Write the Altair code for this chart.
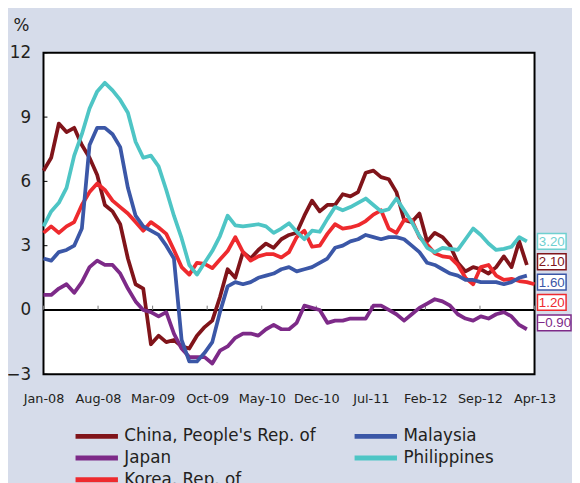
import altair as alt
import pandas as pd

# ---------------- data ----------------
tick_labels = ["Jan-08", "Aug-08", "Mar-09", "Oct-09", "May-10",
               "Dec-10", "Jul-11", "Feb-12", "Sep-12", "Apr-13"]
n_steps = 64  # monthly points from Dec-07 (0) to Apr-13 (64)

series_names = ["China, People's Rep. of", "Japan", "Korea, Rep. of",
                "Malaysia", "Philippines"]

china = [6.5, 7.1, 8.7, 8.3, 8.5, 7.7, 7.1, 6.3, 4.9, 4.6, 4.0, 2.4, 1.2,
         1.0, -1.6, -1.2, -1.5, -1.4, -1.7, -1.8, -1.2, -0.8, -0.5, 0.6, 1.9,
         1.5, 2.7, 2.4, 2.8, 3.1, 2.9, 3.3, 3.5, 3.6, 4.4, 5.1, 4.6,
         4.9, 4.9, 5.4, 5.3, 5.5, 6.4, 6.5, 6.2, 6.1, 5.5, 4.2, 4.1,
         4.5, 3.2, 3.6, 3.4, 3.0, 2.2, 1.8, 2.0, 1.9, 1.7, 2.0, 2.5,
         2.0, 3.2, 2.1]
japan = [0.7, 0.7, 1.0, 1.2, 0.8, 1.3, 2.0, 2.3, 2.1, 2.1, 1.7, 1.0, 0.4,
         0.0, -0.1, -0.3, -0.1, -1.1, -1.8, -2.2, -2.2, -2.2, -2.5, -1.9, -1.7,
         -1.3, -1.1, -1.1, -1.2, -0.9, -0.7, -0.9, -0.9, -0.6, 0.2, 0.1, 0.0,
         -0.6, -0.5, -0.5, -0.4, -0.4, -0.4, 0.2, 0.2, 0.0, -0.2, -0.5, -0.2,
         0.1, 0.3, 0.5, 0.4, 0.2, -0.2, -0.4, -0.5, -0.3, -0.4, -0.2, -0.1,
         -0.3, -0.7, -0.9]
korea = [3.6, 3.9, 3.6, 3.9, 4.1, 4.9, 5.5, 5.9, 5.6, 5.1, 4.8, 4.5, 4.1,
         3.7, 4.1, 3.85, 3.55, 2.8, 2.0, 1.65, 2.2, 2.15, 1.95, 2.35, 2.75,
         3.4, 2.7, 2.3, 2.5, 2.6, 2.6, 2.45, 2.7, 3.4, 3.7, 2.95, 3.0,
         3.55, 4.0, 3.8, 3.85, 3.95, 4.15, 4.45, 4.65, 3.8, 3.6, 4.2, 4.2,
         3.4, 3.05, 2.65, 2.5, 2.45, 2.1, 1.5, 1.2, 2.0, 2.1, 1.6, 1.4,
         1.45, 1.35, 1.3, 1.2]
malaysia = [2.4, 2.3, 2.7, 2.8, 3.0, 3.8, 7.7, 8.5, 8.5, 8.2, 7.6, 5.7, 4.4,
            3.9, 3.7, 3.5, 3.0, 2.4, -1.4, -2.4, -2.4, -2.0, -1.5, -0.1, 1.1,
            1.3, 1.2, 1.3, 1.5, 1.6, 1.7, 1.9, 2.0, 1.8, 1.9, 2.0, 2.2,
            2.4, 2.9, 3.0, 3.2, 3.3, 3.5, 3.4, 3.3, 3.4, 3.4, 3.3, 3.0,
            2.7, 2.2, 2.1, 1.9, 1.7, 1.6, 1.4, 1.4, 1.3, 1.3, 1.3, 1.2,
            1.3, 1.5, 1.6]
philippines = [3.9, 4.6, 5.0, 5.7, 7.2, 8.2, 9.4, 10.2, 10.6, 10.25, 9.8, 9.2, 7.85,
               7.1, 7.2, 6.7, 5.6, 4.4, 3.35, 2.1, 1.65, 2.2, 2.75, 3.45, 4.4,
               3.95, 3.9, 3.95, 4.0, 3.9, 3.6, 3.8, 4.05, 3.65, 3.3, 3.7, 3.65,
               4.25, 4.8, 4.65, 4.8, 5.0, 5.2, 4.9, 4.6, 4.7, 5.2, 4.65, 4.1,
               3.45, 2.9, 2.7, 2.9, 2.85, 2.8, 3.3, 3.8, 3.5, 3.1, 2.8, 2.85,
               2.95, 3.4, 3.2]

y_ticks = [-3, 0, 3, 6, 9, 12]

line_colors = ["#80141A", "#7D2A88", "#EE2A2E", "#3B57A7", "#4EC5C5"]
label_text_colors = ["#80141A", "#7D2A88", "#EE2A2E", "#3B57A7", "#6FD0D0"]

# ---------------- tables ----------------
all_vals = [china, japan, korea, malaysia, philippines]
rows = []
for name, vals in zip(series_names, all_vals):
    for i, v in enumerate(vals):
        rows.append({"series": name, "idx": i, "value": v})
df = pd.DataFrame(rows)

tick_df = pd.DataFrame({"pos": [k * n_steps / (len(tick_labels) - 1) for k in range(len(tick_labels))]})
ytick_df = pd.DataFrame({"v": y_ticks})

# end-of-line value labels, stacked from the highest one downward
ends = []
for name, vals, tc in zip(series_names, all_vals, label_text_colors):
    ends.append({"series": name, "last": vals[-1], "col": tc})
ends.sort(key=lambda d: -d["last"])
top = ends[0]["last"]
for k, d in enumerate(ends):
    txt = f"{d['last']:.2f}".replace("-", "\u2212")
    w = 5 * len(txt) + 9
    h = 8.0 / (w / 2.0)
    d["slot"] = top - k * 0.95
    d["txt"] = txt
    d["cx"] = 501 + w / 2.0
    d["sz"] = w * w
    d["shape"] = f"M-1,{-h:.4f}H1V{h:.4f}H-1Z"
end_df = pd.DataFrame(ends)

# ---------------- scales / axes ----------------
xscale = alt.Scale(domain=[0, n_steps], nice=False, zero=False)
yscale = alt.Scale(domain=[-3, 12], nice=False, zero=False)

label_arr = "[" + ",".join(f"'{t}'" for t in tick_labels) + "]"
ax_x = alt.Axis(values=tick_df["pos"].tolist(), title=None, domain=False, ticks=False,
                tickSize=0, grid=False, labelFlush=False, labelOverlap=False,
                labelPadding=19, labelFontSize=13, labelColor="#231F20",
                labelExpr=f"{label_arr}[round(datum.value*{len(tick_labels)-1}/{n_steps})]")
ax_y = alt.Axis(values=y_ticks, title="%", titleAngle=0, titleAlign="left",
                titleBaseline="alphabetic", titleX=-31, titleY=-23, titleFontSize=17,
                titleFontWeight="normal", titleColor="#231F20",
                domain=False, ticks=False, tickSize=0, grid=False,
                labelPadding=13, labelFontSize=17, labelColor="#231F20",
                labelExpr="replace(datum.label, '-', '\u2212')")

base_y = alt.Y("value:Q", scale=yscale, axis=ax_y)

zero_rule = alt.Chart(pd.DataFrame({"z": [0]})).mark_rule(color="black", strokeWidth=2).encode(
    y=alt.Y("z:Q", scale=yscale, axis=ax_y)
)

xticks = alt.Chart(tick_df).mark_rule(color="#777777", strokeWidth=1).encode(
    x=alt.X("pos:Q", scale=xscale, axis=ax_x),
    y=alt.datum(0),
    y2=alt.datum(0.2),
)

yticks = alt.Chart(ytick_df).mark_rule(color="black", strokeWidth=1).encode(
    y=alt.Y("v:Q", scale=yscale, axis=ax_y),
    x=alt.value(0),
    x2=alt.value(4),
)

lines = alt.Chart(df).mark_line(strokeWidth=3.8, strokeJoin="round").encode(
    x=alt.X("idx:Q", scale=xscale, axis=ax_x),
    y=base_y,
    color=alt.Color("series:N", scale=alt.Scale(domain=series_names, range=line_colors),
                    legend=alt.Legend(title=None, orient="none", legendX=30, legendY=379,
                                      direction="vertical",
                                      columns=2, columnPadding=36, rowPadding=2,
                                      clipHeight=20,
                                      symbolType="stroke", symbolSize=1849,
                                      symbolStrokeWidth=5, labelFontSize=17,
                                      labelColor="#231F20", labelOffset=4,
                                      labelLimit=400, padding=0)),
)

boxes = alt.Chart(end_df).mark_point(filled=True, fill="white", strokeWidth=1.5, opacity=1).encode(
    x=alt.X("cx:Q", scale=None),
    y=alt.Y("slot:Q", scale=yscale, axis=ax_y),
    shape=alt.Shape("shape:N", scale=None),
    size=alt.Size("sz:Q", scale=None),
    stroke=alt.Stroke("col:N", scale=None),
)

texts = alt.Chart(end_df).mark_text(font="Liberation Sans", fontSize=13.5,
                                    align="center", baseline="middle", dy=0.5).encode(
    x=alt.X("cx:Q", scale=None),
    y=alt.Y("slot:Q", scale=yscale, axis=ax_y),
    text="txt:N",
    color=alt.Color("col:N", scale=None),
)

chart = alt.layer(zero_rule, xticks, yticks, lines, boxes, texts).properties(
    width=498, height=326,
    background="#D6DCEA",
    padding={"left": 36, "top": 42, "right": 38, "bottom": 118},
    autosize=alt.AutoSizeParams(type="none"),
).configure(
    font="DejaVu Sans",
).configure_view(
    fill="white", stroke="black", strokeWidth=2,
)

chart.save("out.html", embed_options={"renderer": "svg", "actions": False})
